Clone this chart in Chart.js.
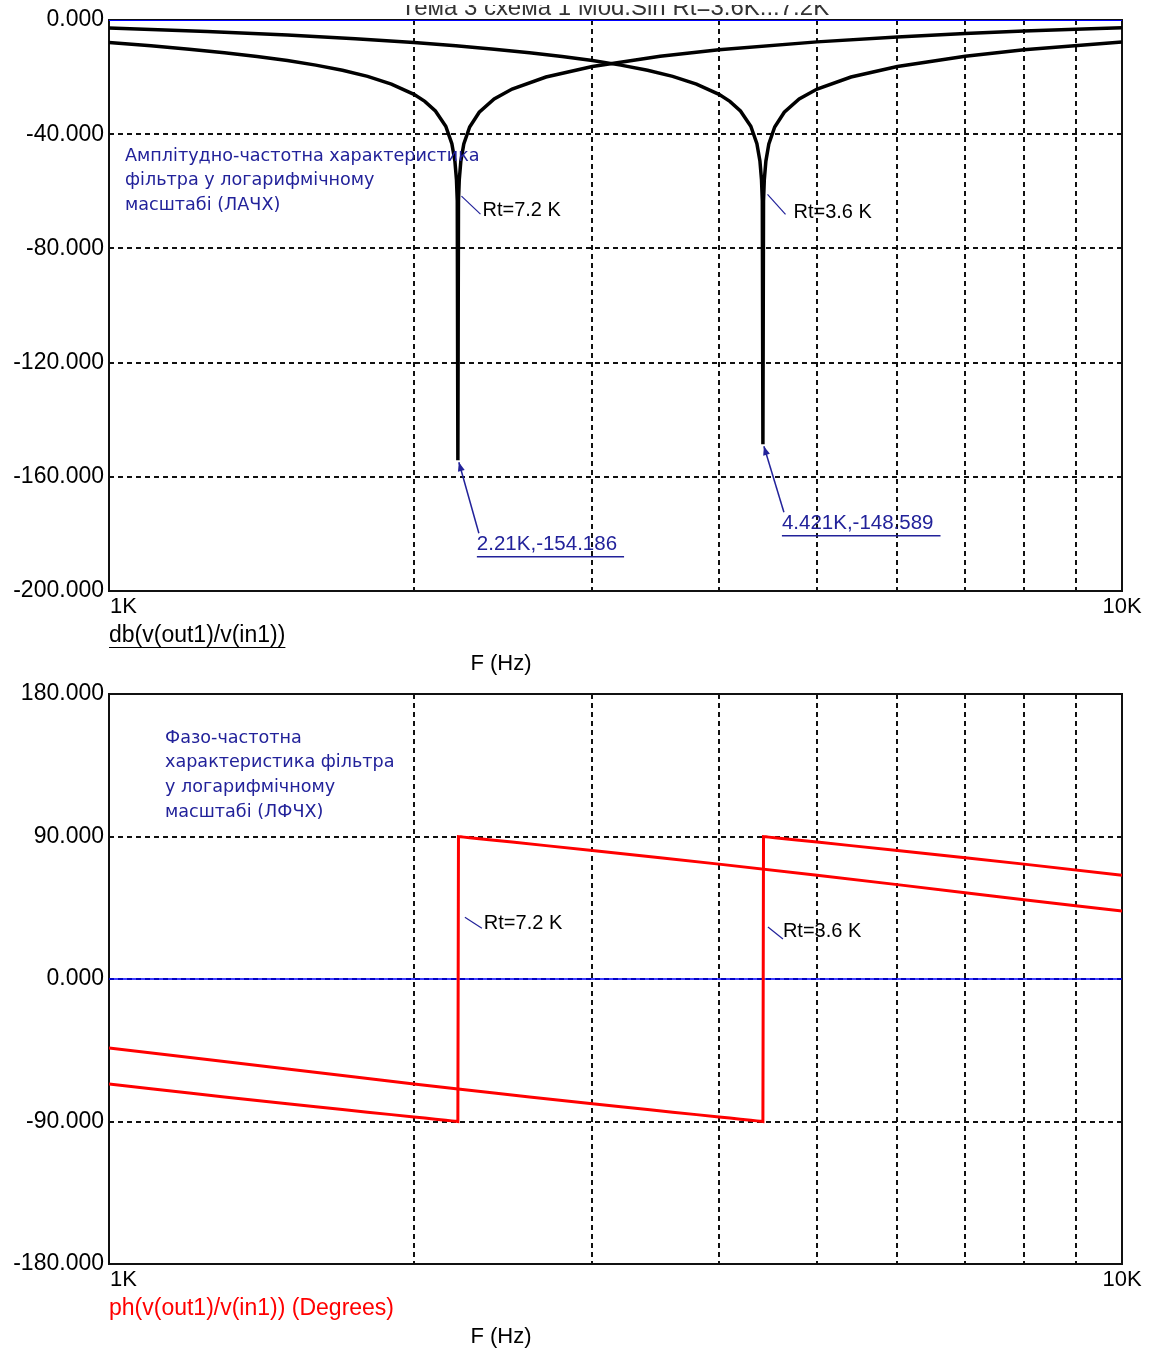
<!DOCTYPE html>
<html>
<head>
<meta charset="utf-8">
<script src="https://cdn.jsdelivr.net/npm/chart.js@4/dist/chart.umd.min.js"></script>
<style>
  html, body { margin: 0; padding: 0; background: #fff; }
  #wrap { position: relative; width: 1153px; height: 1354px; overflow: hidden; }
  #wrap canvas { position: absolute; left: 0; top: 0; }
</style>
</head>
<body>
<div id="wrap">
  <canvas id="gain" width="1153" height="1354"></canvas>
  <canvas id="phase" width="1153" height="1354"></canvas>
</div>
<script>
const FONT = '"Liberation Sans", Arial, sans-serif';
const NOTE_FONT = '"DejaVu Sans", Verdana, sans-serif';
const NAVY = '#22229a';

// Twin-T notch, Rt = 7.2 K (notch near 2.21 kHz)
const freqA  = [1000,1100,1200,1300,1400,1500,1600,1700,1800,1900,2000,2050,2100,2150,2180,2195,2203,2207,2210,
                2213,2217,2225,2240,2270,2320,2400,2500,2700,3000,3500,4000,5000,6000,7000,8000,9000,10000];
const gainA  = [-7.91,-9.03,-10.21,-11.44,-12.77,-14.21,-15.80,-17.62,-19.76,-22.43,-26.03,-28.50,-31.86,-37.23,-43.31,-49.36,-55.99,-63.38,-154.186,
                -63.37,-56.02,-49.42,-43.42,-37.46,-32.29,-27.69,-24.20,-19.98,-16.29,-12.71,-10.46,-7.66,-5.92,-4.72,-3.86,-3.21,-2.70];
const phaseA = [-66.28,-69.30,-72.01,-74.47,-76.71,-78.76,-80.67,-82.44,-84.10,-85.66,-87.14,-87.85,-88.54,-89.21,-89.61,-89.80,-89.91,-89.96,-90.00,
                89.96,89.91,89.81,89.61,89.23,88.61,87.64,86.46,84.24,81.18,76.61,72.55,65.53,59.61,54.52,50.10,46.27,42.90];

// Twin-T notch, Rt = 3.6 K (notch near 4.421 kHz)
const freqB  = [1000,1250,1500,1750,2000,2200,2400,2601,2801,3001,3201,3401,3601,3801,4001,4101,4201,4301,4361,4391,4407,4415,4421,
                4427,4435,4451,4481,4541,4641,4801,5001,5401,6001,7002,8002,10000];
const gainB  = [-2.81,-4.00,-5.25,-6.56,-7.91,-9.03,-10.21,-11.44,-12.77,-14.21,-15.80,-17.62,-19.76,-22.43,-26.03,-28.50,-31.86,-37.23,-43.31,-49.36,-55.99,-63.38,-148.589,
                -63.37,-56.02,-49.42,-43.42,-37.46,-32.29,-27.69,-24.20,-19.98,-16.29,-12.71,-10.46,-7.66];
const phaseB = [-43.64,-50.87,-56.90,-61.96,-66.28,-69.30,-72.01,-74.47,-76.71,-78.76,-80.67,-82.44,-84.10,-85.66,-87.14,-87.85,-88.54,-89.21,-89.61,-89.80,-89.91,-89.96,-90.00,
                89.96,89.91,89.81,89.61,89.23,88.61,87.64,86.46,84.24,81.18,76.61,72.55,65.53];

// Axes
const freqTicks  = [1000,2000,3000,4000,5000,6000,7000,8000,9000,10000];
const freqLabels = ['1K','','','','','','','','','10K'];
const gainTicks  = [0,-40,-80,-120,-160,-200];
const phaseTicks = [180,90,0,-90,-180];

// Marker readouts on the gain plot
const markers = [
  { f: 2210, v: -154.186, text: '2.21K,-154.186',  dx: 19, dy: 84 },
  { f: 4421, v: -148.589, text: '4.421K,-148.589', dx: 19, dy: 79 }
];

const pts = (xs, ys) => xs.map((x, i) => ({ x, y: ys[i] }));

function text(ctx, str, x, y, size, color, align, family, baseline) {
  ctx.save();
  ctx.font = size + 'px ' + (family || FONT);
  ctx.fillStyle = color;
  ctx.textAlign = align || 'left';
  ctx.textBaseline = baseline || 'middle';
  ctx.fillText(str, x, y);
  const w = ctx.measureText(str).width;
  ctx.restore();
  return w;
}
function seg(ctx, x1, y1, x2, y2, color, w) {
  ctx.save();
  ctx.strokeStyle = color; ctx.lineWidth = w;
  ctx.beginPath(); ctx.moveTo(x1, y1); ctx.lineTo(x2, y2); ctx.stroke();
  ctx.restore();
}
function arrow(ctx, x1, y1, x2, y2, color) {
  seg(ctx, x1, y1, x2, y2, color, 1.5);
  const a = Math.atan2(y2 - y1, x2 - x1), L = 9, W = 3.5;
  ctx.save();
  ctx.fillStyle = color;
  ctx.beginPath();
  ctx.moveTo(x2, y2);
  ctx.lineTo(x2 - L * Math.cos(a) + W * Math.sin(a), y2 - L * Math.sin(a) - W * Math.cos(a));
  ctx.lineTo(x2 - L * Math.cos(a) - W * Math.sin(a), y2 - L * Math.sin(a) + W * Math.cos(a));
  ctx.closePath(); ctx.fill();
  ctx.restore();
}

const framePlugin = {
  id: 'frame',
  beforeDatasetsDraw(chart) {
    const { ctx, chartArea: a } = chart;
    ctx.save();
    ctx.strokeStyle = '#111'; ctx.lineWidth = 2;
    ctx.strokeRect(a.left, a.top, a.right - a.left, a.bottom - a.top);
    ctx.restore();
  }
};

function xEdgeLabels(chart) {
  const { ctx, chartArea: a, scales: { x } } = chart;
  freqTicks.forEach((f, i) => {
    if (!freqLabels[i]) return;
    const px = x.getPixelForValue(f);
    if (i === 0) text(ctx, freqLabels[i], px + 1, a.bottom + 16, 22, '#000', 'left');
    else text(ctx, freqLabels[i], px, a.bottom + 16, 22, '#000', 'center');
  });
}

function makeScales(yMin, yMax, yTicks) {
  return {
    x: {
      type: 'logarithmic', min: 1000, max: 10000,
      afterBuildTicks: s => { s.ticks = freqTicks.map(v => ({ value: v })); },
      afterFit: s => { s.height = 0; },
      ticks: { display: false },
      grid: {
        drawTicks: false, lineWidth: 2,
        color: c => (c.tick && (c.tick.value === 1000 || c.tick.value === 10000)) ? 'rgba(0,0,0,0)' : '#111'
      },
      border: { display: false, dash: [5, 4] }
    },
    y: {
      min: yMin, max: yMax,
      afterBuildTicks: s => { s.ticks = yTicks.map(v => ({ value: v })); },
      afterFit: s => { s.width = 109; },
      ticks: {
        padding: 5, color: '#000',
        font: { family: FONT, size: 23 },
        callback: v => v.toFixed(3)
      },
      grid: {
        drawTicks: false, lineWidth: 2,
        color: c => (c.tick && (c.tick.value === yMin || c.tick.value === yMax)) ? 'rgba(0,0,0,0)' : '#111'
      },
      border: { display: false, dash: [5, 4] }
    }
  };
}

const common = {
  responsive: false, animation: false, devicePixelRatio: 1,
  events: [],
  plugins: { legend: { display: false }, tooltip: { enabled: false }, title: { display: false } },
  elements: { point: { radius: 0 }, line: { tension: 0 } }
};

// ---------- Gain (dB) ----------
new Chart(document.getElementById('gain'), {
  type: 'scatter',
  data: {
    datasets: [
      { data: pts(freqA, gainA), showLine: true, borderColor: '#000', borderWidth: 3.5 },
      { data: pts(freqB, gainB), showLine: true, borderColor: '#000', borderWidth: 3.5 },
      { data: [{ x: 1000, y: 0 }, { x: 10000, y: 0 }], showLine: true, borderColor: '#0000ff', borderWidth: 2 }
    ]
  },
  options: Object.assign({}, common, {
    layout: { padding: { left: 0, right: 31, top: 20, bottom: 763 } },
    scales: makeScales(-200, 0, gainTicks)
  }),
  plugins: [framePlugin, {
    id: 'gainText',
    afterDraw(chart) {
      const { ctx, chartArea: a, scales: { x, y } } = chart;
      // title strip above the plot, cut off at its top
      ctx.save();
      ctx.beginPath(); ctx.rect(0, 5, chart.width, 14); ctx.clip();
      text(ctx, 'Тема 3 схема 1 Mod.Sin Rt=3.6K...7.2K', 615, 15, 24, '#333', 'center', FONT, 'alphabetic');
      ctx.restore();

      xEdgeLabels(chart);
      const w = text(ctx, 'db(v(out1)/v(in1))', a.left, a.bottom + 45, 23, '#000', 'left');
      seg(ctx, a.left, a.bottom + 56.5, a.left + w, a.bottom + 56.5, '#000', 1.2);
      text(ctx, 'F (Hz)', 501, a.bottom + 73, 22, '#000', 'center');

      const note = ['Амплітудно-частотна характеристика', 'фільтра у логарифмічному', 'масштабі (ЛАЧХ)'];
      note.forEach((s, i) => text(ctx, s, 125, 156 + i * 24.5, 17.6, NAVY, 'left', NOTE_FONT));

      // curve tags
      const tagA = { x: x.getPixelForValue(2213), y: y.getPixelForValue(-61) };
      seg(ctx, tagA.x + 3, tagA.y + 2, tagA.x + 22, tagA.y + 20, NAVY, 1.2);
      text(ctx, 'Rt=7.2 K', tagA.x + 24, tagA.y + 16, 20, '#000', 'left');
      const tagB = { x: x.getPixelForValue(4427), y: y.getPixelForValue(-60) };
      seg(ctx, tagB.x + 4, tagB.y + 3, tagB.x + 22, tagB.y + 23, NAVY, 1.2);
      text(ctx, 'Rt=3.6 K', tagB.x + 30, tagB.y + 21, 20, '#000', 'left');

      // marker readouts
      markers.forEach(m => {
        const px = x.getPixelForValue(m.f), py = y.getPixelForValue(m.v);
        const tx = px + m.dx, ty = py + m.dy;
        arrow(ctx, tx + 2, ty - 11, px + 1, py + 2, NAVY);
        const tw = text(ctx, m.text, tx, ty, 20.5, NAVY, 'left');
        seg(ctx, tx, ty + 12.5, tx + tw + 7, ty + 12.5, NAVY, 1.5);
      });
    }
  }]
});

// ---------- Phase (degrees) ----------
new Chart(document.getElementById('phase'), {
  type: 'scatter',
  data: {
    datasets: [
      { data: pts(freqA, phaseA), showLine: true, borderColor: '#ff0000', borderWidth: 3 },
      { data: pts(freqB, phaseB), showLine: true, borderColor: '#ff0000', borderWidth: 3 },
      { data: [{ x: 1000, y: 0 }, { x: 10000, y: 0 }], showLine: true, borderColor: '#0000ff', borderWidth: 1.5 }
    ]
  },
  options: Object.assign({}, common, {
    layout: { padding: { left: 0, right: 31, top: 694, bottom: 90 } },
    scales: makeScales(-180, 180, phaseTicks)
  }),
  plugins: [framePlugin, {
    id: 'phaseText',
    afterDraw(chart) {
      const { ctx, chartArea: a, scales: { x, y } } = chart;
      xEdgeLabels(chart);
      text(ctx, 'ph(v(out1)/v(in1)) (Degrees)', a.left, a.bottom + 45, 23, '#ff0000', 'left');
      text(ctx, 'F (Hz)', 501, a.bottom + 73, 22, '#000', 'center');

      const note = ['Фазо-частотна', 'характеристика фільтра', 'у логарифмічному', 'масштабі (ЛФЧХ)'];
      note.forEach((s, i) => text(ctx, s, 165, 738 + i * 24.7, 17.6, NAVY, 'left', NOTE_FONT));

      const tA = { x: x.getPixelForValue(2210), y: y.getPixelForValue(44) };
      seg(ctx, tA.x + 7, tA.y + 8, tA.x + 24, tA.y + 19, NAVY, 1.2);
      text(ctx, 'Rt=7.2 K', tA.x + 26, tA.y + 14, 20, '#000', 'left');
      const tB = { x: x.getPixelForValue(4421), y: y.getPixelForValue(36) };
      seg(ctx, tB.x + 5, tB.y + 5, tB.x + 20, tB.y + 17, NAVY, 1.2);
      text(ctx, 'Rt=3.6 K', tB.x + 20, tB.y + 9, 20, '#000', 'left');
    }
  }]
});
</script>
</body>
</html>
